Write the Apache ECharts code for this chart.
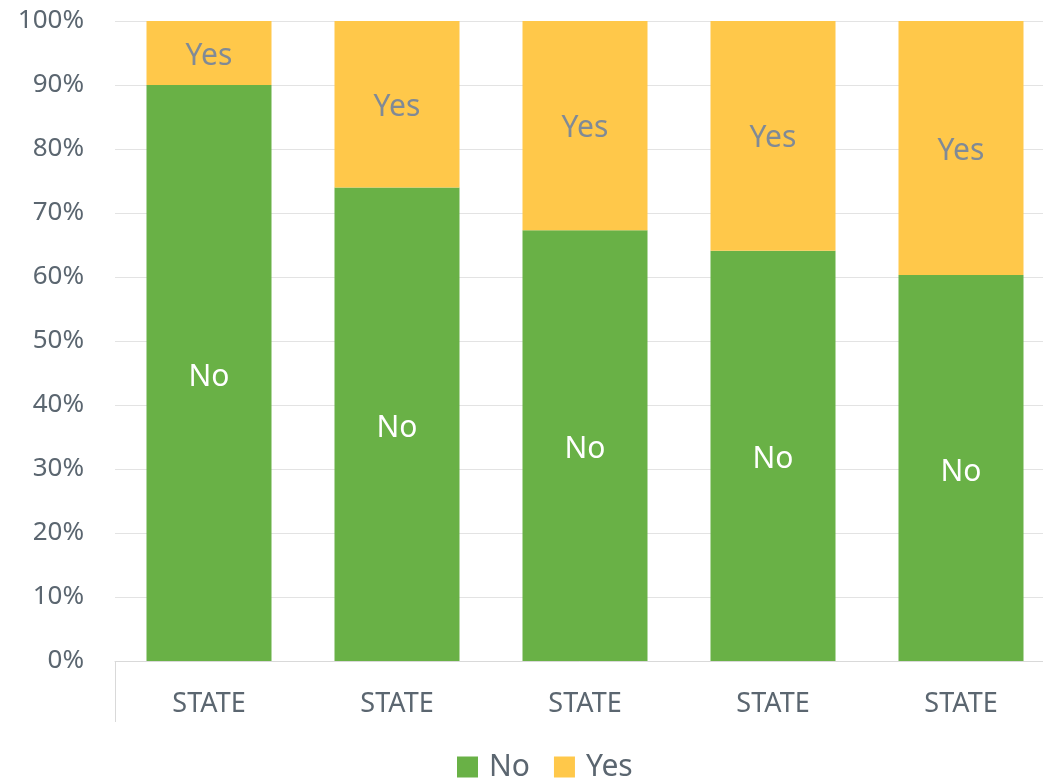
<!DOCTYPE html>
<html>
<head>
<meta charset="utf-8">
<script src="https://cdn.jsdelivr.net/npm/echarts@6/dist/echarts.min.js"></script>
<style>
html, body { margin: 0; padding: 0; background: #fff; }
#main { width: 1043px; height: 780px; }
</style>
</head>
<body>
<div id="main"></div>
<script>
// data
var categories = ['STATE', 'STATE', 'STATE', 'STATE', 'STATE'];
var noValues = [90, 74, 67.3, 64.1, 60.3];
var yesValues = [10, 26, 32.7, 35.9, 39.7];
var yTicks = [0, 10, 20, 30, 40, 50, 60, 70, 80, 90, 100];

var font = '"Noto Sans", "Open Sans", sans-serif';
var chart = echarts.init(document.getElementById('main'));

chart.setOption({
    animation: false,
    textStyle: { fontFamily: font },
    grid: { left: 115, width: 940, top: 21, bottom: 119, outerBoundsMode: 'none' },
    legend: {
        top: 752,
        left: 457,
        padding: 0,
        itemWidth: 21,
        itemHeight: 21,
        itemGap: 24,
        icon: 'rect',
        textStyle: { fontSize: 30, color: '#5b6670', fontFamily: font, padding: [0, 0, 0, 6] },
        data: ['No', 'Yes']
    },
    xAxis: {
        type: 'category',
        data: categories,
        axisLine: { show: true, lineStyle: { color: '#d9d9d9', width: 1 } },
        axisTick: {
            show: true,
            length: 61,
            interval: function (i) { return i === 0; },
            lineStyle: { color: '#d9d9d9' }
        },
        axisLabel: { fontSize: 27, color: '#5b6670', margin: 30, fontFamily: font }
    },
    yAxis: {
        type: 'value',
        min: 0,
        max: 100,
        interval: 10,
        axisLine: { show: false },
        axisTick: { show: false },
        splitLine: { lineStyle: { color: '#e3e3e3', width: 1 } },
        axisLabel: {
            fontSize: 26,
            color: '#5b6670',
            margin: 31,
            fontFamily: font,
            formatter: function (v) { return yTicks.indexOf(v) >= 0 ? v + '%' : ''; }
        }
    },
    series: [
        {
            name: 'No',
            type: 'bar',
            stack: 'total',
            barWidth: 125,
            data: noValues,
            itemStyle: { color: '#69b146' },
            label: {
                show: true,
                position: 'inside',
                offset: [0, 4],
                formatter: 'No',
                fontSize: 30,
                color: '#ffffff',
                fontFamily: font
            }
        },
        {
            name: 'Yes',
            type: 'bar',
            stack: 'total',
            barWidth: 125,
            data: yesValues,
            itemStyle: { color: '#ffc84a' },
            label: {
                show: true,
                position: 'inside',
                offset: [0, 3],
                formatter: 'Yes',
                fontSize: 30,
                color: '#808a96',
                fontFamily: font
            }
        }
    ]
});
</script>
</body>
</html>
